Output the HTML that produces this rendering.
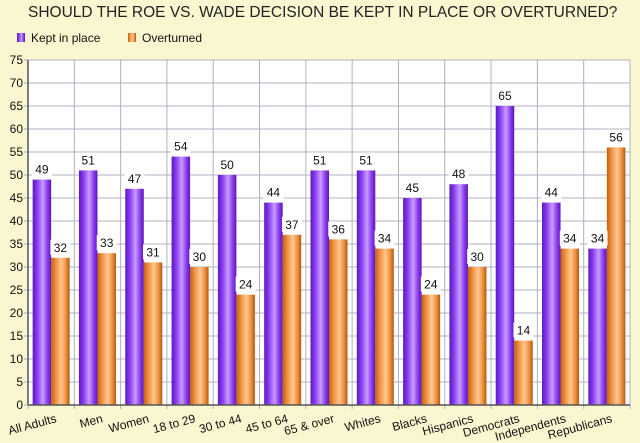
<!DOCTYPE html>
<html><head><meta charset="utf-8"><style>
body{margin:0;background:#faf6cf;}
svg{display:block;font-family:"Liberation Sans",Arial,sans-serif;}
</style></head><body>
<svg id="c" width="640" height="443">
<defs>
<linearGradient id="gp" x1="0" x2="1"><stop offset="0" stop-color="#5a18c0"/><stop offset="0.25" stop-color="#8a3cf0"/><stop offset="0.55" stop-color="#c89cff"/><stop offset="0.8" stop-color="#8a3cf0"/><stop offset="1" stop-color="#5a18b0"/></linearGradient>
<linearGradient id="go" x1="0" x2="1"><stop offset="0" stop-color="#c06010"/><stop offset="0.25" stop-color="#f09040"/><stop offset="0.55" stop-color="#ffc890"/><stop offset="0.8" stop-color="#f09040"/><stop offset="1" stop-color="#b05a10"/></linearGradient>
</defs>
<rect width="640" height="443" fill="#faf6cf"/>
<text x="28" y="17" font-size="15.5" fill="#222">SHOULD THE ROE VS. WADE DECISION BE KEPT IN PLACE OR OVERTURNED?</text>
<g>
<rect x="17" y="33" width="8" height="9" fill="url(#gp)"/>
<text x="31" y="42" font-size="12" fill="#111">Kept in place</text>
<rect x="128" y="33" width="8" height="9" fill="url(#go)"/>
<text x="142" y="42" font-size="12" fill="#111">Overturned</text>
</g>
<g id="plot"></g>
</svg>
<script>
const categories=["All Adults","Men","Women","18 to 29","30 to 44","45 to 64","65 & over","Whites","Blacks","Hispanics","Democrats","Independents","Republicans"];
const kept=[49,51,47,54,50,44,51,51,45,48,65,44,34];
const overturned=[32,33,31,30,24,37,36,34,24,30,14,34,56];
const ticks=[0,5,10,15,20,25,30,35,40,45,50,55,60,65,70,75];
const L=28,R=630,T=60,B=405,MAX=75;
const ns="http://www.w3.org/2000/svg";
const g=document.getElementById('plot');
const y=v=>B-(v/MAX)*(B-T);
const cw=(R-L)/categories.length;
const x=i=>L+i*cw;
function mk(t,a,p){const e=document.createElementNS(ns,t);for(const k in a)e.setAttribute(k,a[k]);(p||g).appendChild(e);return e;}
const bg=mk('rect',{x:L,y:T,width:R-L,height:B-T,fill:'#fff'});


ticks.forEach(t=>{
 const ln=mk('line',{x1:L-4,x2:R,y1:y(t),y2:y(t),stroke:'#b0b0c0','stroke-width':1});
 
 
 const tx=mk('text',{x:L-5,y:y(t)+4,'text-anchor':'end','font-size':12,fill:'#111'});
 tx.textContent=t;
 
 
});
for(let i=0;i<=categories.length;i++){
 const ln=mk('line',{x1:x(i),x2:x(i),y1:T,y2:B+4,stroke:'#b0b0c0'});
 
 
}
const bw=18.5;
function lbl(cx,v){
 const r=mk('rect',{x:cx-10,y:y(v)-18,width:20,height:15,fill:'#fff'});
 
 
 const t=mk('text',{x:cx,y:y(v)-6,'text-anchor':'middle','font-size':12,fill:'#111'});
 t.textContent=v;
 
 
}
categories.forEach((c,i)=>{
 const x0=x(i)+(cw-2*bw)/2;
 const b1=mk('rect',{x:x0,y:y(kept[i]),width:bw,height:B-y(kept[i]),fill:'url(#gp)'});
 
 
 const b2=mk('rect',{x:x0+bw,y:y(overturned[i]),width:bw,height:B-y(overturned[i]),fill:'url(#go)'});
 
 
 lbl(x0+bw/2,kept[i]);lbl(x0+1.5*bw,overturned[i]);
 const cx=x(i)+cw/2+6;
 const t=mk('text',{x:cx,y:B+17,'text-anchor':'end','font-size':12,fill:'#111',transform:`rotate(-15 ${cx} ${B+17})`});
 t.textContent=c;
 
 
});
const ax=mk('line',{x1:L,x2:L,y1:T,y2:B,stroke:'#555','stroke-width':1.5});


const bx=mk('line',{x1:L,x2:R,y1:B,y2:B,stroke:'#555','stroke-width':1.5});


</script>
</body></html>
